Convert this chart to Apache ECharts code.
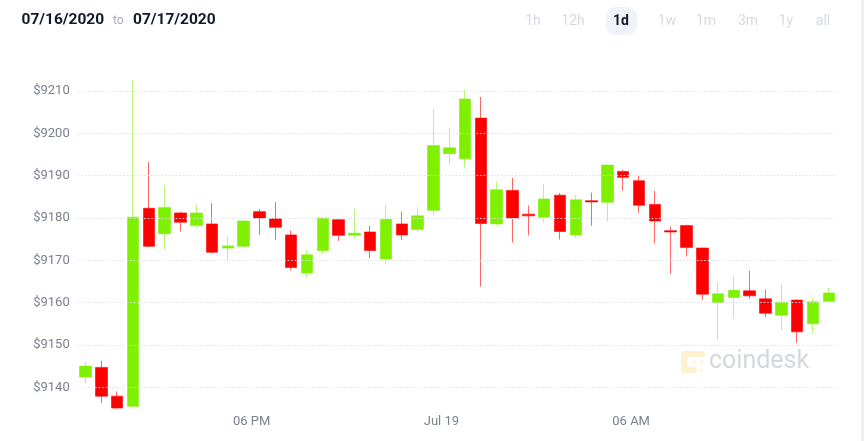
<!DOCTYPE html>
<html>
<head>
<meta charset="utf-8">
<script src="https://cdn.jsdelivr.net/npm/echarts@6/dist/echarts.min.js"></script>
<style>
html,body{margin:0;padding:0;background:#fff;}
#chart{width:864px;height:441px;}
</style>
</head>
<body>
<div id="chart"></div>
<script>
// 30-minute candle start times (Jul 18 12:30 -> Jul 19 12:00)
var times = ["12:30","13:00","13:30","14:00","14:30","15:00","15:30","16:00","16:30","17:00","17:30","18:00",
  "18:30","19:00","19:30","20:00","20:30","21:00","21:30","22:00","22:30","23:00","23:30","00:00",
  "00:30","01:00","01:30","02:00","02:30","03:00","03:30","04:00","04:30","05:00","05:30","06:00",
  "06:30","07:00","07:30","08:00","08:30","09:00","09:30","10:00","10:30","11:00","11:30","12:00"];
var opens  = [9142.4,9144.7,9137.9,9135.5,9182.3,9176.3,9181.2,9178.2,9178.6,9172.9,9173.3,9181.5,
  9179.8,9176.0,9167.0,9172.3,9179.6,9175.9,9176.7,9170.3,9178.6,9177.3,9181.8,9195.2,
  9194.0,9203.6,9178.6,9186.5,9180.9,9180.2,9185.4,9176.0,9184.1,9183.7,9191.0,9188.8,
  9183.2,9177.0,9178.2,9172.9,9160.0,9161.2,9162.8,9160.9,9157.0,9160.6,9155.0,9160.3];
var closes = [9145.0,9137.9,9135.1,9180.2,9173.3,9182.5,9179.0,9181.2,9171.9,9173.4,9179.3,9180.0,
  9177.8,9168.3,9171.3,9180.0,9175.9,9176.4,9172.3,9179.7,9176.0,9180.5,9197.1,9196.6,
  9208.1,9178.7,9186.7,9180.0,9180.5,9184.5,9176.8,9184.3,9183.8,9192.5,9189.6,9183.0,
  9179.3,9176.7,9173.0,9162.0,9162.1,9162.9,9161.6,9157.5,9160.1,9153.1,9160.2,9162.3];
var lows   = [9140.9,9136.3,9134.9,9135.3,9173.1,9172.6,9176.8,9177.6,9171.6,9170.0,9172.9,9176.0,
  9174.8,9167.6,9166.1,9171.4,9174.6,9175.2,9170.5,9169.0,9174.9,9176.6,9180.6,9192.6,
  9191.9,9163.8,9178.3,9174.2,9175.9,9179.0,9174.9,9175.3,9178.2,9179.2,9186.5,9181.2,
  9174.0,9166.8,9170.9,9160.6,9151.1,9156.2,9160.9,9156.6,9153.6,9150.5,9152.8,9160.1];
var highs  = [9146.1,9146.3,9139.0,9212.6,9193.2,9187.8,9181.5,9183.1,9183.5,9175.5,9179.6,9182.1,
  9183.8,9177.0,9172.4,9180.1,9179.8,9182.2,9178.2,9183.1,9181.5,9182.6,9205.8,9201.2,
  9210.3,9208.6,9188.6,9189.5,9183.0,9188.0,9185.9,9185.4,9186.0,9192.7,9191.4,9190.0,
  9186.4,9178.0,9178.4,9173.0,9164.9,9166.3,9167.5,9163.1,9164.5,9160.8,9161.2,9163.5];
var xTickValues = [18, 24, 30];
var xTickLabels = ["06 PM", "Jul 19", "06 AM"];
var ranges = ["1h","12h","1d","1w","1m","3m","1y","all"];
var dateFrom = "07/16/2020", dateTo = "07/17/2020";

// convert times to hours since Jul 18 00:00 (candle mid-point)
var hours = [];
var offset = 0, prev = -1;
times.forEach(function (t) {
  var p = t.split(":");
  var raw = +p[0] + (+p[1]) / 60;
  if (raw < prev) offset += 24;
  prev = raw;
  hours.push(raw + offset + 0.25);
});
var candleData = hours.map(function (h, i) {
  return [h, opens[i], closes[i], lows[i], highs[i]];
});

var chart = echarts.init(document.getElementById('chart'));
var font = 'Roboto, "Noto Sans", sans-serif';
var btnX = [533, 573, 621, 667, 706, 748, 786, 823];
var graphics = [
  {type:'rect', shape:{x:861, y:0, width:3, height:441}, style:{fill:'#eef0f5'}, silent:true},
  {type:'text', x:21.5, y:20, style:{text:dateFrom, font:'bold 15.5px ' + font, fill:'#111827', verticalAlign:'middle'}},
  {type:'text', x:113, y:21, style:{text:'to', font:'12px ' + font, fill:'#a6abb6', verticalAlign:'middle'}},
  {type:'text', x:133, y:20, style:{text:dateTo, font:'bold 15.5px ' + font, fill:'#111827', verticalAlign:'middle'}},
  {type:'rect', shape:{x:606, y:7, width:31, height:28, r:9}, style:{fill:'#f0f3f9'}}
];
ranges.forEach(function (r, i) {
  var active = r === '1d';
  graphics.push({type:'text', x:btnX[i], y:21, style:{text:r, font:(active ? 'bold ' : '') + '14px ' + font,
    fill: active ? '#111827' : '#d5d9e3', align:'center', verticalAlign:'middle'}});
});
// coindesk watermark
var logoC = '#fdf1cf';
graphics.push(
  {type:'line', shape:{x1:684, y1:354, x2:702, y2:354}, style:{stroke:logoC, lineWidth:6, lineCap:'round'}},
  {type:'line', shape:{x1:684, y1:354, x2:684, y2:370}, style:{stroke:logoC, lineWidth:6, lineCap:'round'}},
  {type:'line', shape:{x1:684, y1:370, x2:694, y2:370}, style:{stroke:logoC, lineWidth:6, lineCap:'round'}},
  {type:'circle', shape:{cx:702, cy:362, r:1.6}, style:{fill:logoC}},
  {type:'circle', shape:{cx:702, cy:370, r:1.6}, style:{fill:logoC}},
  {type:'circle', shape:{cx:694, cy:362, r:1.6}, style:{fill:logoC}},
  {type:'text', x:709, y:362, style:{text:'coindesk', font:'25px ' + font, fill:'#d4d7de', verticalAlign:'middle'}}
);

chart.setOption({
  animation: false,
  backgroundColor: '#ffffff',
  graphic: graphics,
  grid: {left: 77.7, right: 27.3, top: 48.7, bottom: 11.4, containLabel: false},
  xAxis: {
    type: 'value', min: 12.5, max: 36.5,
    axisLine: {show: false}, axisTick: {show: false}, splitLine: {show: false},
    offset: -14,
    axisLabel: {
      customValues: xTickValues, margin: 0,
      color: '#7b808d', fontSize: 13, fontFamily: font,
      formatter: function (v) { var k = xTickValues.indexOf(v); return k >= 0 ? xTickLabels[k] : ''; }
    }
  },
  yAxis: {
    type: 'value', min: 9130, max: 9220, interval: 10, z: 5,
    axisLine: {show: false}, axisTick: {show: false},
    axisLabel: {color: '#7b808d', fontSize: 13, fontFamily: font, margin: 8,
      showMinLabel: false, showMaxLabel: false,
      formatter: function (v) { return '$' + v; }},
    splitLine: {show: true, showMinLine: false, showMaxLine: false,
      lineStyle: {color: '#dbe0ee', type: [1.5, 2], width: 1}}
  },
  series: [{
    type: 'candlestick',
    data: candleData,
    encode: {x: 0, y: [1, 2, 3, 4]},
    barWidth: 12,
    itemStyle: {
      color: '#7ef000', color0: '#ff0000',
      borderColor: 'rgba(126,240,0,0.55)', borderColor0: 'rgba(255,0,0,0.6)',
      borderWidth: 1
    }
  }]
});
</script>
</body>
</html>
